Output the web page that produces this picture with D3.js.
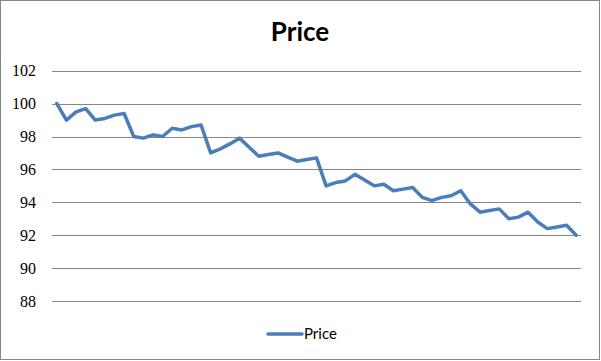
<!DOCTYPE html>
<html>
<head>
<meta charset="utf-8">
<script src="https://cdn.jsdelivr.net/npm/d3@7"></script>
<style>
  body { margin: 0; background: #fff; }
  svg { display: block; }
</style>
</head>
<body>
<svg id="chart" width="601" height="361"></svg>
<script>
// values, one per period
const price = [
    100.0, 99.0, 99.5, 99.7, 99.0, 99.1, 99.3, 99.4, 98.0, 97.9, 98.1, 98.0, 98.5, 98.4, 98.6, 98.7,
    97.0, 97.25, 97.55, 97.9, 97.35, 96.8, 96.9, 97.0, 96.75, 96.5, 96.6, 96.7,
    95.0, 95.2, 95.3, 95.7, 95.35, 95.0, 95.1, 94.7, 94.8, 94.9, 94.3, 94.1, 94.3, 94.4,
    94.7, 93.9, 93.4, 93.5, 93.6, 93.0, 93.1, 93.4, 92.8, 92.4, 92.5, 92.6, 92.0
];
const periods = price.map((d, i) => i + 1);
const yTicks = [88, 90, 92, 94, 96, 98, 100, 102];
const seriesName = "Price";

const svg = d3.select("#chart");
const W = 601, H = 361;
const plot = { left: 52, right: 581, top: 70.7, bottom: 301 };

// outer chart border
svg.append("rect")
    .attr("x", 0.5).attr("y", 0.5)
    .attr("width", W - 2).attr("height", H - 2)
    .attr("fill", "#fff")
    .attr("stroke", "#868686");

// title
svg.append("text")
    .attr("x", 300).attr("y", 41)
    .attr("text-anchor", "middle")
    .style("font-family", "Lato, 'Noto Sans', sans-serif")
    .style("font-weight", "bold")
    .style("font-size", "26px")
    .text(seriesName);

let x = d3.scalePoint()
    .domain(periods)
    .range([plot.left, plot.right])
    .padding(0.5);

let y = d3.scaleLinear()
    .domain([88, 102])
    .range([plot.bottom, plot.top]);

// gridlines + labels through axisLeft
let yAxis = svg.append("g")
    .attr("transform", `translate(${plot.left},0)`)
    .call(d3.axisLeft(y)
        .tickValues(yTicks)
        .tickSize(-(plot.right - plot.left))
        .tickPadding(16)
        .tickFormat(d3.format("d")));
yAxis.select(".domain").remove();
yAxis.selectAll("line")
    .attr("stroke", "#868686")
    .attr("shape-rendering", "crispEdges");
yAxis.selectAll("text")
    .attr("fill", "#000")
    .style("font-family", "'Liberation Serif', serif")
    .style("font-size", "16px");

// the series
let line = d3.line()
    .x((d, i) => x(periods[i]))
    .y(d => y(d));

svg.append("path")
    .datum(price)
    .attr("d", line)
    .attr("fill", "none")
    .attr("stroke", "#4A7EBB")
    .attr("stroke-width", 3.5)
    .attr("stroke-linejoin", "round")
    .attr("stroke-linecap", "round");

// legend
let legend = svg.append("g").attr("transform", "translate(268,334)");
legend.append("line")
    .attr("x1", 0).attr("x2", 34)
    .attr("y1", 0).attr("y2", 0)
    .attr("stroke", "#4A7EBB")
    .attr("stroke-width", 3.5)
    .attr("stroke-linecap", "round");
legend.append("text")
    .attr("x", 36).attr("y", 5)
    .style("font-family", "Lato, 'Noto Sans', sans-serif")
    .style("font-size", "15px")
    .text(seriesName);
</script>
</body>
</html>
